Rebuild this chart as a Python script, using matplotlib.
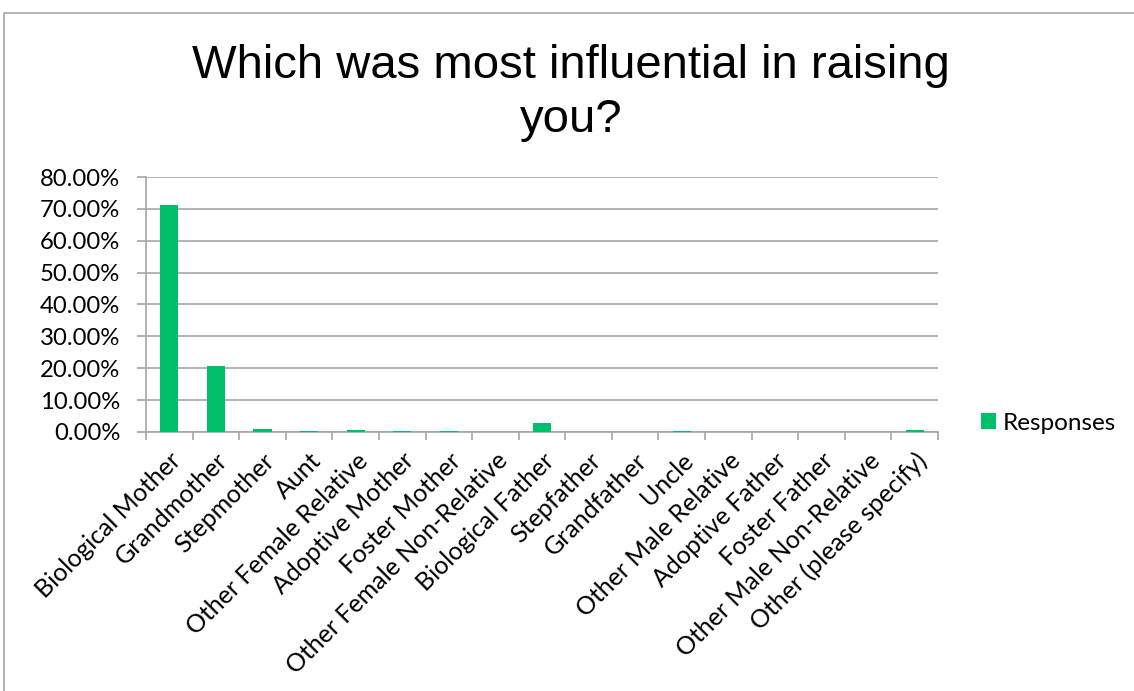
import matplotlib.pyplot as plt
import numpy as np
from matplotlib.patches import Rectangle

categories = ['Biological Mother', 'Grandmother', 'Stepmother', 'Aunt',
              'Other Female Relative', 'Adoptive Mother', 'Foster Mother',
              'Other Female Non-Relative', 'Biological Father', 'Stepfather',
              'Grandfather', 'Uncle', 'Other Male Relative', 'Adoptive Father',
              'Foster Father', 'Other Male Non-Relative', 'Other (please specify)']
responses = [71.2, 20.8, 0.9, 0.2, 0.6, 0.4, 0.4, 0.0, 2.8, 0.0,
             0.0, 0.2, 0.0, 0.0, 0.0, 0.0, 0.6]
yticks = [0, 10, 20, 30, 40, 50, 60, 70, 80]

plt.rcParams['font.family'] = ['Lato', 'DejaVu Sans']

W, H = 1134, 691
fig = plt.figure(figsize=(W / 100, H / 100), dpi=100)
# chart border
fig.patches.append(Rectangle((4 / W, -0.01), 1.2, (H - 13) / H + 0.01,
                             transform=fig.transFigure, fill=False,
                             edgecolor='#a6a6a6', linewidth=1.2))

ax = fig.add_axes([146 / W, 1 - 432 / H, (938 - 146) / W, (432 - 177) / H])
x = np.arange(len(categories))
bars = ax.bar(x, responses, width=0.39, color='#00bf6b', label='Responses', zorder=3)

ax.set_xlim(-0.5, len(categories) - 0.5)
ax.set_ylim(0, 80)
ax.set_yticks(yticks)
ax.set_yticklabels(['%.2f%%' % v for v in yticks], fontsize=17.2)
ax.yaxis.grid(True, color='#a6a6a6', linewidth=1.2, zorder=0)
ax.tick_params(axis='y', length=6.5, color='#a6a6a6', width=1.2, pad=12)

ax.set_xticks(x)
ax.set_xticklabels(categories, rotation=45, ha='right', rotation_mode='anchor',
                   fontsize=18)
ax.tick_params(axis='x', length=0, pad=12)
ax.set_xticks(np.arange(-0.5, len(categories)), minor=True)
ax.tick_params(axis='x', which='minor', length=6, color='#a6a6a6', width=1.2)

for s in ['top', 'right']:
    ax.spines[s].set_visible(False)
for s in ['left', 'bottom']:
    ax.spines[s].set_color('#a6a6a6')
    ax.spines[s].set_linewidth(1.2)

title_font = ['Liberation Sans', 'DejaVu Sans']
fig.text(571 / W, 1 - 78 / H, 'Which was most influential in raising',
         ha='center', va='baseline', fontsize=34, family=title_font)
fig.text(571 / W, 1 - 132 / H, 'you?',
         ha='center', va='baseline', fontsize=34, family=title_font)

fig.legend(handles=[bars], labels=['Responses'], loc='center left',
           bbox_to_anchor=(959 / W, 1 - 423 / H), frameon=False, fontsize=17.5,
           handlelength=0.62, handleheight=0.62, handletextpad=0.3)

plt.savefig('out.png')
